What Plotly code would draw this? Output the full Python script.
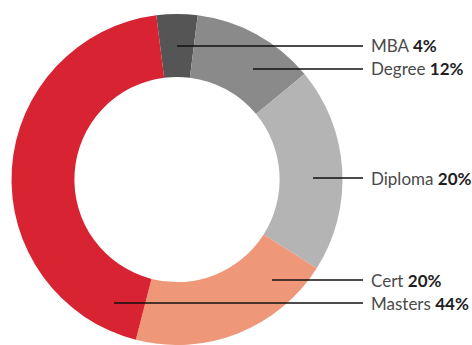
import plotly.graph_objects as go

# Share of respondents by highest qualification
labels = ["MBA", "Degree", "Diploma", "Cert", "Masters"]
shares = [4, 12, 20, 20, 44]
colors = ["#555555", "#8a8a8a", "#b4b4b4", "#ee9879", "#d82332"]

# Callout placement (pixels from top-left of the 472x345 canvas)
label_y = [46, 69, 178, 280, 303]
line_x0 = [177, 253, 313, 272, 114]
line_x1 = 363
text_x = 369
W, H = 472, 345

fig = go.Figure(
    go.Pie(
        labels=labels,
        values=shares,
        marker=dict(colors=colors, line=dict(width=0)),
        hole=0.62,
        sort=False,
        direction="clockwise",
        rotation=-shares[0] * 3.6 / 2,
        textinfo="none",
        hoverinfo="none",
        showlegend=False,
        domain=dict(x=[10 / W, 344 / W], y=[0, 331 / H]),
    )
)

shapes = []
annotations = []
for lab, val, y, x0 in zip(labels, shares, label_y, line_x0):
    yp = 1 - y / H
    shapes.append(
        dict(type="line", xref="paper", yref="paper",
             x0=x0 / W, x1=line_x1 / W, y0=yp, y1=yp,
             line=dict(color="#111111", width=1.3))
    )
    annotations.append(
        dict(xref="paper", yref="paper", x=text_x / W, y=yp,
             xanchor="left", yanchor="middle", showarrow=False,
             text=f"{lab} <span style='color:#1e1e1e'><b>{val}%</b></span>",
             font=dict(family="Lato", size=17, color="#4a4a4a"))
    )

fig.update_layout(
    width=W, height=H,
    margin=dict(l=0, r=0, t=0, b=0),
    paper_bgcolor="white",
    plot_bgcolor="white",
    shapes=shapes,
    annotations=annotations,
)

fig.write_html("out.html")
